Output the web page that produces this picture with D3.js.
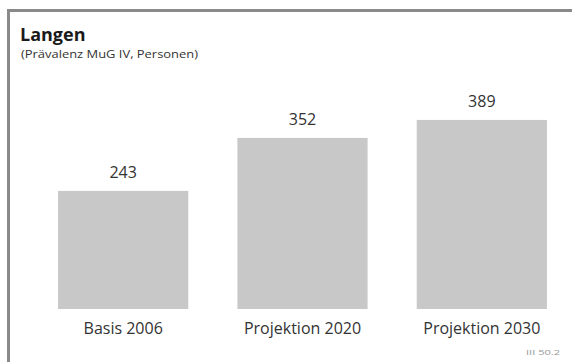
<!DOCTYPE html>
<html><head><meta charset="utf-8">
<script src="https://cdn.jsdelivr.net/npm/d3@7"></script>
<style>body{margin:0;background:#fff}svg{display:block}</style>
</head><body>
<script>
const categories = ["Basis 2006", "Projektion 2020", "Projektion 2030"];
const values = [243, 352, 389];
const title = "Langen";
const subtitle = "(Prävalenz MuG IV, Personen)";
const footnote = "III 50.2";

const W = 572, H = 362;
const svg = d3.select("body").append("svg").attr("width", W).attr("height", H);
svg.append("rect").attr("width", W).attr("height", H).attr("fill", "#fff");

// frame
svg.append("line").attr("x1", 7).attr("x2", W).attr("y1", 10.5).attr("y2", 10.5).attr("stroke", "#8a8a8a").attr("stroke-width", 3);
svg.append("line").attr("x1", 8.5).attr("x2", 8.5).attr("y1", 9).attr("y2", H).attr("stroke", "#8a8a8a").attr("stroke-width", 3);

const font = "'Open Sans', sans-serif";
const txt = "#333";

svg.append("text").attr("x", 20).attr("y", 41).text(title)
  .attr("font-family", font).attr("font-weight", "bold").attr("font-size", 18).attr("fill", "#1a1a1a");
svg.append("text").attr("x", 21).attr("y", 57.5).text(subtitle)
  .attr("font-family", font).attr("font-size", 11.5).attr("fill", txt)
  .attr("textLength", 177).attr("lengthAdjust", "spacingAndGlyphs");

const x = d3.scaleBand().domain(categories).range([33.5, 571.5]).paddingInner(0.274).paddingOuter(0.137);
const y = d3.scaleLinear().domain([0, 400]).range([309, 309 - 0.486 * 400]);

svg.selectAll("rect.bar").data(values).join("rect").attr("class", "bar")
  .attr("x", (d, i) => x(categories[i])).attr("width", x.bandwidth())
  .attr("y", d => y(d)).attr("height", d => y(0) - y(d)).attr("fill", "#c8c8c8");

svg.selectAll("text.val").data(values).join("text").attr("class", "val")
  .attr("x", (d, i) => x(categories[i]) + x.bandwidth() / 2).attr("y", d => y(d) - 13)
  .attr("text-anchor", "middle").attr("font-family", font).attr("font-size", 16).attr("fill", txt)
  .text(d => d);

const xAxis = svg.append("g").attr("transform", "translate(0,309)")
  .call(d3.axisBottom(x).tickSize(0).tickPadding(14));
xAxis.select(".domain").remove();
xAxis.selectAll("text").attr("font-family", font).attr("font-size", 16).attr("fill", txt).attr("dy", "0.71em");

svg.append("text").attr("x", 560).attr("y", 355).attr("text-anchor", "end").text(footnote)
  .attr("font-family", font).attr("font-size", 8).attr("fill", "#999")
  .attr("textLength", 34).attr("lengthAdjust", "spacingAndGlyphs");
</script>
</body></html>
